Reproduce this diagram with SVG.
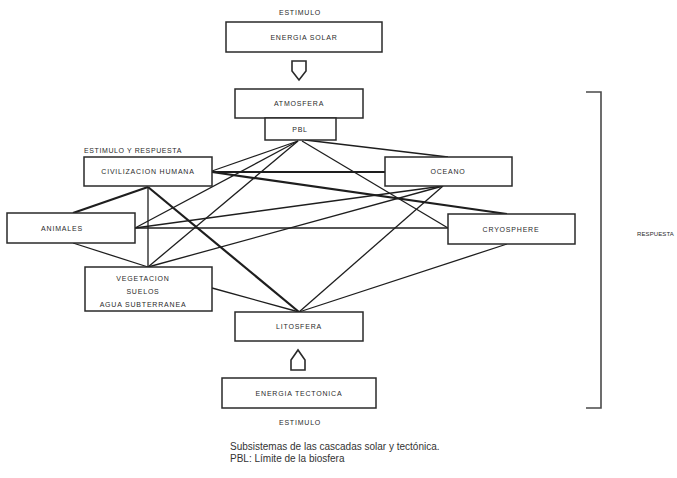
<svg xmlns="http://www.w3.org/2000/svg" width="677" height="478" viewBox="0 0 677 478">
<style>
.box{fill:#fff;stroke:#2a2a2a;stroke-width:1.5}
.lbl{font-family:"Liberation Sans",Arial,sans-serif;font-size:7px;letter-spacing:0.8px;fill:#2a2a2a;text-anchor:middle}
.sm{font-family:"Liberation Sans",Arial,sans-serif;font-size:7px;letter-spacing:0.6px;fill:#2a2a2a}
.c{stroke:#1e1e1e;stroke-width:1.3;fill:none}
.t{stroke:#1e1e1e;stroke-width:2.2;fill:none}
.cap{font-family:"Liberation Sans",Arial,sans-serif;font-size:10px;fill:#333}
</style>
<rect width="677" height="478" fill="#fff"/>
<g id="connectors">
<line class="c" x1="298" y1="141" x2="212" y2="171"/>
<line class="c" x1="298" y1="141" x2="135" y2="228"/>
<line class="c" x1="298" y1="141" x2="148" y2="267"/>
<line class="c" x1="305" y1="140" x2="448" y2="157"/>
<line class="c" x1="302" y1="141" x2="448" y2="228"/>
<line class="t" x1="148" y1="187" x2="73" y2="213"/>
<line class="c" x1="148" y1="187" x2="148" y2="267"/>
<line class="t" x1="212" y1="172" x2="385" y2="172"/>
<line class="t" x1="212" y1="172" x2="507" y2="214"/>
<line class="t" x1="148" y1="187" x2="299" y2="312"/>
<line class="c" x1="73" y1="243" x2="148" y2="267"/>
<line class="c" x1="135" y1="228" x2="443" y2="186"/>
<line class="c" x1="135" y1="228" x2="448" y2="228"/>
<line class="c" x1="148" y1="267" x2="443" y2="186"/>
<line class="c" x1="212" y1="288" x2="299" y2="312"/>
<line class="c" x1="443" y1="186" x2="299" y2="312"/>
<line class="c" x1="507" y1="244" x2="299" y2="312"/>
</g>
<g id="energia-solar">
<rect class="box" x="226" y="22" width="156" height="30"/>
<text class="lbl" x="304" y="40">ENERGIA SOLAR</text>
</g>
<g id="flecha-solar">
<polygon points="292,61 306,61 306,71 299,80 292,71" fill="#fff" stroke="#2a2a2a" stroke-width="1.6"/>
</g>
<g id="atmosfera">
<rect class="box" x="235" y="89" width="128" height="29"/>
<text class="lbl" x="299" y="106">ATMOSFERA</text>
</g>
<g id="pbl">
<rect class="box" x="265" y="118" width="71" height="22"/>
<text class="lbl" x="300" y="132">PBL</text>
</g>
<g id="civilizacion">
<rect class="box" x="84" y="157" width="128" height="29"/>
<text class="lbl" x="148" y="174">CIVILIZACION HUMANA</text>
</g>
<g id="animales">
<rect class="box" x="7" y="213" width="128" height="30"/>
<text class="lbl" x="62" y="231">ANIMALES</text>
</g>
<g id="vegetacion">
<rect class="box" x="85" y="267" width="127" height="44"/>
<text class="lbl" x="143" y="281">VEGETACION</text>
<text class="lbl" x="143" y="294">SUELOS</text>
<text class="lbl" x="143" y="307">AGUA SUBTERRANEA</text>
</g>
<g id="oceano">
<rect class="box" x="385" y="157" width="127" height="29"/>
<text class="lbl" x="448" y="174">OCEANO</text>
</g>
<g id="cryosphere">
<rect class="box" x="448" y="214" width="127" height="30"/>
<text class="lbl" x="511" y="232">CRYOSPHERE</text>
</g>
<g id="litosfera">
<rect class="box" x="235" y="312" width="128" height="29"/>
<text class="lbl" x="299" y="329">LITOSFERA</text>
</g>
<g id="flecha-tectonica">
<polygon points="291,370 305,370 305,360 298,350 291,360" fill="#fff" stroke="#2a2a2a" stroke-width="1.6"/>
</g>
<g id="energia-tectonica">
<rect class="box" x="222" y="378" width="154" height="30"/>
<text class="lbl" x="299" y="396">ENERGIA TECTONICA</text>
</g>
<g id="bracket">
<path d="M586,92 H601 V408 H586" fill="none" stroke="#4a4a4a" stroke-width="1.6"/>
</g>
<text class="lbl" x="300" y="15">ESTIMULO</text>
<text class="sm" x="84" y="153">ESTIMULO Y RESPUESTA</text>
<text class="lbl" x="300" y="425">ESTIMULO</text>
<text x="637" y="236" font-family="Liberation Sans, Arial, sans-serif" font-size="6" letter-spacing="0.1" fill="#2a2a2a">RESPUESTA</text>
<text class="cap" x="230" y="450">Subsistemas de las cascadas solar y tectónica.</text>
<text class="cap" x="230" y="462">PBL: Límite de la biosfera</text>
</svg>
